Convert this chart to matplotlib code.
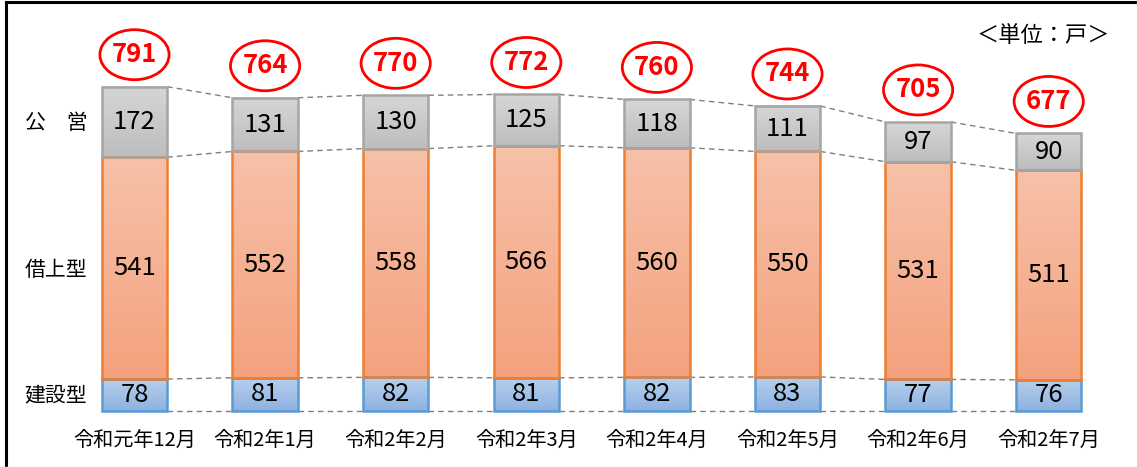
import numpy as np
import matplotlib
matplotlib.use("Agg")
import matplotlib.pyplot as plt
from matplotlib.patches import Ellipse
from matplotlib.colors import LinearSegmentedColormap
from matplotlib.lines import Line2D

plt.rcParams['font.family'] = ['Noto Sans CJK JP', 'DejaVu Sans']

months = ['令和元年12月', '令和2年1月', '令和2年2月', '令和2年3月',
          '令和2年4月', '令和2年5月', '令和2年6月', '令和2年7月']
kensetsu = [78, 81, 82, 81, 82, 83, 77, 76]
kariage = [541, 552, 558, 566, 560, 550, 531, 511]
koei = [172, 131, 130, 125, 118, 111, 97, 90]
totals = [791, 764, 770, 772, 760, 744, 705, 677]
series_names = ['建設型', '借上型', '公\u3000営']

# colours: (top, bottom, edge)
styles = [('#b7d0ec', '#8db2e1', '#5b9bd5'),
          ('#f7c1a9', '#f4a27e', '#ed7d31'),
          ('#d6d6d6', '#bdbdbd', '#a5a5a5')]

W, H = 1137, 468
fig = plt.figure(figsize=(W / 100, H / 100), dpi=100)
ax = fig.add_axes([0, 0, 1, 1])
ax.set_xlim(-134.5 / 130.6, (W - 134.5) / 130.6)
ax.set_ylim(-(H - 411) / 0.41, 411 / 0.41)
ax.axis('off')

x = np.arange(len(months))
bw = 0.5
data = [kensetsu, kariage, koei]
bottom = np.zeros(len(months))
levels = [bottom.copy()]
for vals, (c_top, c_bot, c_edge) in zip(data, styles):
    vals = np.array(vals, dtype=float)
    bars = ax.bar(x, vals, bw, bottom=bottom, color='none',
                  edgecolor=c_edge, linewidth=1.8, zorder=3)
    cmap = LinearSegmentedColormap.from_list('g', [c_bot, c_top])
    grad = np.linspace(0, 1, 64).reshape(-1, 1)
    for b, xi, v, b0 in zip(bars, x, vals, bottom):
        ax.imshow(grad, cmap=cmap, aspect='auto', origin='lower',
                  extent=(xi - bw / 2, xi + bw / 2, b0, b0 + v), zorder=2)
        ax.text(xi, b0 + v / 2, f'{int(v)}', ha='center', va='center',
                fontsize=18.5, color='black', zorder=4)
    bottom = bottom + vals
    levels.append(bottom.copy())

# dashed series lines between bars
for lv in levels:
    for i in range(len(months) - 1):
        ax.plot([x[i] + bw / 2, x[i + 1] - bw / 2], [lv[i], lv[i + 1]],
                ls=(0, (4, 3)), color='#7f7f7f', lw=1.0, zorder=1)

# totals in red ellipses
for xi, t in zip(x, totals):
    cy = t + 78
    ax.add_patch(Ellipse((xi, cy), 0.53, 122, fill=False, edgecolor='#ff0000',
                         linewidth=2.0, zorder=5))
    ax.text(xi, cy, f'{t}', ha='center', va='center', fontsize=18.5,
            fontweight='bold', color='#ff0000', zorder=6)

# category labels
for xi, m in zip(x, months):
    fig.text((134.5 + 130.6 * xi) / W, 1 - 440 / H, m, ha='center', va='center',
             fontsize=14.5)

# row labels
for name, yp in zip(series_names, [395, 270, 123]):
    fig.text(56 / W, 1 - yp / H, name, ha='center', va='center', fontsize=15)

fig.text(1043 / W, 1 - 35 / H, '＜単位：戸＞', ha='center', va='center',
         fontsize=16)

# frame
fig.add_artist(Line2D([5.5 / W, 5.5 / W], [0, 1 - 2 / H], color='black',
                      lw=2.2, transform=fig.transFigure))
fig.add_artist(Line2D([5.5 / W, 1], [1 - 2 / H, 1 - 2 / H], color='black',
                      lw=2.2, transform=fig.transFigure))
fig.add_artist(Line2D([0, 1], [1.5 / H, 1.5 / H], color='#d9d9d9',
                      lw=1.0, transform=fig.transFigure))

fig.savefig('out.png', dpi=100)
